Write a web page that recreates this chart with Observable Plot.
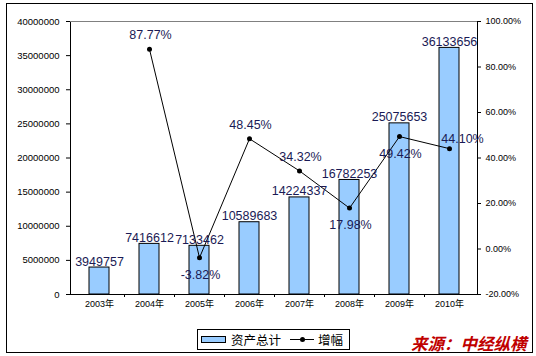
<!DOCTYPE html>
<html><head><meta charset="utf-8">
<script src="https://cdn.jsdelivr.net/npm/d3@7"></script>
<script src="https://cdn.jsdelivr.net/npm/@observablehq/plot@0.6"></script>
<style>
body{margin:0;background:#fff;}
#wrap{position:relative;width:536px;height:356px;font-family:"Liberation Sans",Arial,sans-serif;overflow:hidden;}
#frame{position:absolute;left:6px;top:3px;width:527px;height:350px;border:1px solid #000;box-sizing:border-box;pointer-events:none;}
#chart{position:absolute;left:0;top:0;}
#legend{position:absolute;left:197px;top:329px;width:153px;height:21px;border:1px solid #000;box-sizing:border-box;background:#fff;}
#legend .sw-bar{position:absolute;left:3px;top:6px;width:25px;height:7px;border:1px solid #000;box-sizing:border-box;background:#99ccff;}
#legend .txt{position:absolute;top:0;line-height:19px;font-size:12.5px;font-family:"Noto Sans CJK SC",sans-serif;color:#000;white-space:nowrap;}
#legend .sw-line{position:absolute;left:92px;top:9px;width:24px;height:1px;background:#000;}
#legend .sw-dot{position:absolute;left:102px;top:7px;width:5px;height:5px;border-radius:50%;background:#000;}
#source{position:absolute;left:411px;top:333px;font-size:16.5px;font-weight:bold;font-style:italic;color:#c00000;font-family:"Noto Sans CJK SC",sans-serif;white-space:nowrap;line-height:20px;}
</style>
</head><body>
<div id="wrap">
  <div id="chart"></div>
  <div id="legend"></div>
  <div id="source"></div>
  <div id="frame"></div>
</div>
<script>
const years = ["2003年","2004年","2005年","2006年","2007年","2008年","2009年","2010年"];
const assets = [3949757, 7416612, 7133462, 10589683, 14224337, 16782253, 25075653, 36133656];
const growthYears = ["2004年","2005年","2006年","2007年","2008年","2009年","2010年"];
const growth = [87.77, -3.82, 48.45, 34.32, 17.98, 49.42, 44.10];
const leftTicks = [0, 5000000, 10000000, 15000000, 20000000, 25000000, 30000000, 35000000, 40000000];
const rightTicks = [-20, 0, 20, 40, 60, 80, 100];
const seriesNames = ["资产总计", "增幅"];
const sourceText = "来源：中经纵横";

const yMax = 40000000, pMin = -20, pMax = 100;
const toY = p => (p - pMin) / (pMax - pMin) * yMax;
const fromY = v => v / yMax * (pMax - pMin) + pMin;
const fmtPct = v => { let r = Math.round(fromY(v) * 100) / 100; if (Object.is(r, -0) || Math.abs(r) < 1e-9) r = 0; return r.toFixed(2) + "%"; };

const barData = years.map((d, i) => ({year: d, v: assets[i]}));
const lineData = growthYears.map((d, i) => ({year: d, p: growth[i], y: toY(growth[i]), label: growth[i].toFixed(2) + "%"}));
const belowLabels = new Set(["2005年", "2008年", "2009年"]);

const font = "'Liberation Sans', Arial, 'Noto Sans CJK SC', sans-serif";
const labelColor = "#1a1a55";

function boundaryTicks(index, scales, values, dims) {
  const x = scales.x;
  const bw = typeof x.bandwidth === "function" ? x.bandwidth() : (x.bandwidth || 0);
  const step = x(years[1]) - x(years[0]);
  const g = d3.create("svg:g").attr("stroke", "#000").attr("stroke-width", 1);
  const yb = dims.height - dims.marginBottom;
  for (let i = 1; i < years.length; i++) {
    const bx = Math.round(x(years[i]) - (step - bw) / 2) + 0.5;
    g.append("line").attr("x1", bx).attr("x2", bx).attr("y1", yb).attr("y2", yb + 3);
  }
  return g.node();
}

const chart = Plot.plot({
  width: 536,
  height: 318,
  marginLeft: 70,
  marginRight: 59,
  marginTop: 21,
  marginBottom: 24,
  style: {fontFamily: font, background: "transparent", color: "#000"},
  x: {domain: years, paddingInner: 0.6, paddingOuter: 0.3},
  y: {domain: [0, yMax]},
  marks: [
    Plot.barY(barData, {x: "year", y: "v", fill: "#99ccff", stroke: "#000", strokeWidth: 1}),
    Plot.frame({stroke: "#000"}),
    Plot.ruleY([yMax], {stroke: "#808080"}),
    Plot.axisY(leftTicks, {anchor: "left", tickSize: 4, tickPadding: 7, tickFormat: d => String(d), fontSize: 9.5, label: null}),
    Plot.axisY(rightTicks.map(toY), {anchor: "right", tickSize: 3, tickPadding: 5, tickFormat: fmtPct, fontSize: 9, label: null}),
    Plot.axisX({tickSize: 0, tickPadding: 6, fontSize: 9, label: null}),
    boundaryTicks,
    Plot.line(lineData, {x: "year", y: "y", stroke: "#000", strokeWidth: 1}),
    Plot.dot(lineData, {x: "year", y: "y", r: 2.5, fill: "#000"}),
    Plot.text(barData, {x: "year", y: "v", text: d => String(d.v), lineAnchor: "bottom", dy: -2, fontSize: 12.5, fill: labelColor}),
    Plot.text(lineData.filter(d => !belowLabels.has(d.year) && d.year !== "2010年"), {x: "year", y: "y", text: "label", dy: -14, dx: 1, fontSize: 12.5, fill: labelColor}),
    Plot.text(lineData.filter(d => d.year === "2010年"), {x: "year", y: "y", text: "label", dy: -10, dx: 13, fontSize: 12.5, fill: labelColor}),
    Plot.text(lineData.filter(d => belowLabels.has(d.year)), {x: "year", y: "y", text: "label", dy: 17, dx: 1, fontSize: 12.5, fill: labelColor})
  ]
});
document.getElementById("chart").appendChild(chart);

const legend = document.getElementById("legend");
legend.innerHTML = `<div class="sw-bar"></div><div class="txt" style="left:33px">${seriesNames[0]}</div>` +
  `<div class="sw-line"></div><div class="sw-dot"></div><div class="txt" style="left:120px">${seriesNames[1]}</div>`;
document.getElementById("source").textContent = sourceText;
</script>
</body></html>
